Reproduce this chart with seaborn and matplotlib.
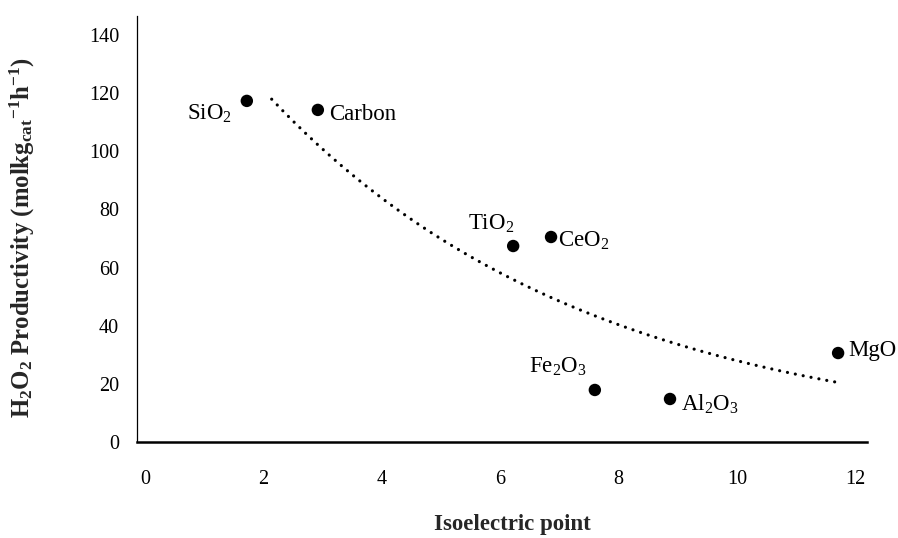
import numpy as np
import pandas as pd
import matplotlib
matplotlib.use("Agg")
import matplotlib.pyplot as plt
import seaborn as sns

# Support materials: isoelectric point vs H2O2 productivity
materials = ["SiO$_2$", "Carbon", "TiO$_2$", "CeO$_2$", "Fe$_2$O$_3$", "Al$_2$O$_3$", "MgO"]
isoelectric = [1.72, 2.92, 6.22, 6.86, 7.60, 8.87, 11.71]
productivity = [117.3, 114.2, 67.4, 70.5, 17.9, 14.8, 30.6]

# Exponential trendline y = A * exp(B * x), drawn over its span
trend_A = 174.4
trend_B = -0.183
trend_span = [2.14, 11.73]

x_ticks = [0, 2, 4, 6, 8, 10, 12]
y_ticks = [0, 20, 40, 60, 80, 100, 120, 140]

sns.set_theme(style="white")
plt.rcParams["font.family"] = ["Liberation Serif", "DejaVu Serif"]
plt.rcParams["mathtext.fontset"] = "custom"
plt.rcParams["mathtext.rm"] = "Liberation Serif"
plt.rcParams["mathtext.it"] = "Liberation Serif:italic"
plt.rcParams["mathtext.bf"] = "Liberation Serif:bold"

df = pd.DataFrame({"material": materials, "pI": isoelectric, "prod": productivity})

tx = np.linspace(trend_span[0], trend_span[1], 200)
trend = pd.DataFrame({"pI": tx, "prod": trend_A * np.exp(trend_B * tx)})

fig = plt.figure(figsize=(8.98, 5.38), dpi=100)
ax = fig.add_axes([0.1526, 0.1784, 0.813, 0.7919])

sns.lineplot(data=trend, x="pI", y="prod", ax=ax, color="black",
             linewidth=2.3, linestyle=(0, (0.01, 2.5)))
ax.get_lines()[-1].set_dash_capstyle("round")

sns.scatterplot(data=df, x="pI", y="prod", ax=ax, color="black",
                s=80, edgecolor="none", zorder=3)

# label offsets in points (dx, dy, horizontal alignment)
offsets = {
    "SiO$_2$": (-11, -9, "right"),
    "Carbon": (8, -3, "left"),
    "TiO$_2$": (-16, 16, "center"),
    "CeO$_2$": (5, -3, "left"),
    "Fe$_2$O$_3$": (-27, 17, "center"),
    "Al$_2$O$_3$": (8, -4, "left"),
    "MgO": (7, 1.5, "left"),
}
for m, xv, yv in zip(materials, isoelectric, productivity):
    dx, dy, ha = offsets[m]
    ax.annotate(m, (xv, yv), xytext=(dx, dy), textcoords="offset points",
                ha=ha, va="center", fontsize=16.5, color="black")

ax.set_xlim(-0.135, 12.2)
ax.set_ylim(0, 146.5)
ax.set_xticks(x_ticks)
ax.set_yticks(y_ticks)
ax.tick_params(axis="both", length=0, labelsize=14.5, colors="black")
ax.tick_params(axis="x", pad=20)
ax.tick_params(axis="y", pad=13)

for side in ["top", "right"]:
    ax.spines[side].set_visible(False)
ax.spines["left"].set_color("black")
ax.spines["left"].set_linewidth(0.9)
ax.spines["bottom"].set_color("black")
ax.spines["bottom"].set_linewidth(1.8)

ax.set_xlabel("Isoelectric point", fontsize=16.5, fontweight="bold")
ax.set_ylabel(r"H$_\mathbf{2}$O$_\mathbf{2}$ Productivity (molkg$_{\mathbf{cat}}$$^{\mathbf{-1}}$h$^{\mathbf{-1}}$)",
              fontsize=17.8, fontweight="bold")
ax.xaxis.set_label_coords(0.514, -0.168)
ax.yaxis.set_label_coords(-0.137, 0.48)

fig.savefig("out.png", dpi=100)
